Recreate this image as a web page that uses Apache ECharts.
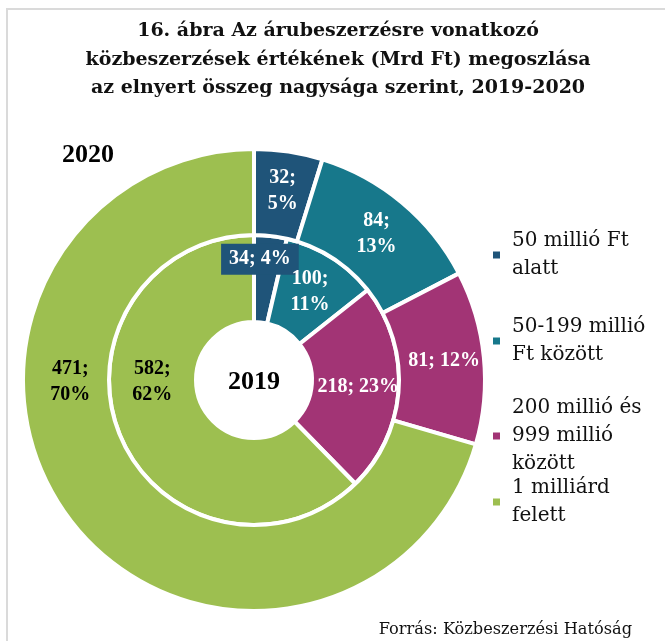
<!DOCTYPE html>
<html>
<head>
<meta charset="utf-8">
<script src="https://cdn.jsdelivr.net/npm/echarts@6/dist/echarts.min.js"></script>
<style>
  body { margin: 0; background: #fff; }
  #main { width: 665px; height: 641px; position: relative; }
  #frame { position: absolute; left: 6px; top: 8px; right: -10px; bottom: -10px;
           border-top: 2px solid #dadada; border-left: 2px solid #dadada; pointer-events: none; }
</style>
</head>
<body>
<div id="main"></div>
<div id="frame"></div>
<script>
// kategóriák (jelmagyarázat)
const categories = ['50 millió Ft\nalatt', '50-199 millió\nFt között', '200 millió és\n999 millió\nközött', '1 milliárd\nfelett']
// értékek, Mrd Ft
const values2019 = [34, 100, 218, 582]
const values2020 = [32, 84, 81, 471]

const colors = ['#1f5479', '#17788b', '#a23475', '#9dbf50']
const serif = 'Liberation Serif'
const wideSerif = 'DejaVu Serif'

// egysoros címkék indexei
const oneLine2019 = [0, 2]
const oneLine2020 = [2]

const makeData = values => values.map((v, i) => {
  const item = { name: categories[i], value: v }
  if (i === 3) item.label = { color: '#000' }
  return item
})

const labelFmt = oneLine => p => p.value + (oneLine.includes(p.dataIndex) ? '; ' : ';\n') + p.percent + '%'

const baseLabel = {
  show: true,
  position: 'inside',
  color: '#fff',
  fontFamily: serif,
  fontWeight: 'bold',
  fontSize: 20,
  lineHeight: 26
}

const data2019 = makeData(values2019)
data2019[0].label = { backgroundColor: colors[0], padding: [3, 8, 2, 8] }

const legends = [
  { name: categories[0], top: 213, lines: 2 },
  { name: categories[1], top: 299, lines: 2 },
  { name: categories[2], top: 366, lines: 3 },
  { name: categories[3], top: 460, lines: 2 }
].map(l => ({
  data: [l.name],
  orient: 'vertical',
  left: 491,
  top: l.top,
  padding: 0,
  icon: 'rect',
  itemWidth: 9,
  itemHeight: 9,
  selectedMode: false,
  textStyle: {
    fontFamily: wideSerif,
    fontSize: 20,
    lineHeight: 28,
    color: '#111',
    padding: [(l.lines - 1) * 28, 0, 0, 6]
  }
}))

const option = {
  color: colors,
  animation: false,
  title: [
    {
      text: '16. ábra Az árubeszerzésre vonatkozó\nközbeszerzések értékének (Mrd Ft) megoszlása\naz elnyert összeg nagysága szerint, 2019-2020',
      left: 333,
      top: 12,
      textAlign: 'center',
      textStyle: { fontFamily: wideSerif, fontWeight: 'bold', fontSize: 19, lineHeight: 28.5, color: '#111' }
    },
    {
      text: 'Forrás: Közbeszerzési Hatóság',
      right: 28,
      top: 617,
      textStyle: { fontFamily: wideSerif, fontWeight: 'normal', fontSize: 16.2, color: '#111' }
    }
  ],
  legend: legends,
  graphic: [
    { type: 'text', x: 88, y: 155, z: 100, style: { text: '2020', font: 'bold 26px ' + serif, fill: '#000', align: 'center', verticalAlign: 'middle' } },
    { type: 'text', x: 254, y: 382, z: 100, style: { text: '2019', font: 'bold 26px ' + serif, fill: '#000', align: 'center', verticalAlign: 'middle' } }
  ],
  series: [
    {
      name: '2019',
      type: 'pie',
      center: [254, 380],
      radius: [58, 145],
      startAngle: 90,
      clockwise: true,
      percentPrecision: 0,
      label: Object.assign({}, baseLabel, { formatter: labelFmt(oneLine2019) }),
      labelLine: { show: false },
      itemStyle: { borderColor: '#fff', borderWidth: 4 },
      emphasis: { disabled: true },
      labelLayout: p => {
        if (p.dataIndex === 0) return { dx: -6, dy: -17 }
        if (p.dataIndex === 3) return { dx: -5, dy: -38 }
      },
      data: data2019
    },
    {
      name: '2020',
      type: 'pie',
      center: [254, 380],
      radius: [145, 231],
      startAngle: 90,
      clockwise: true,
      percentPrecision: 0,
      label: Object.assign({}, baseLabel, { formatter: labelFmt(oneLine2020) }),
      labelLine: { show: false },
      itemStyle: { borderColor: '#fff', borderWidth: 4 },
      emphasis: { disabled: true },
      labelLayout: p => {
        if (p.dataIndex === 3) return { dx: -31, dy: -113 }
      },
      data: makeData(values2020)
    }
  ]
}

const myChart = echarts.init(document.getElementById('main'))
myChart.setOption(option)
</script>
</body>
</html>
